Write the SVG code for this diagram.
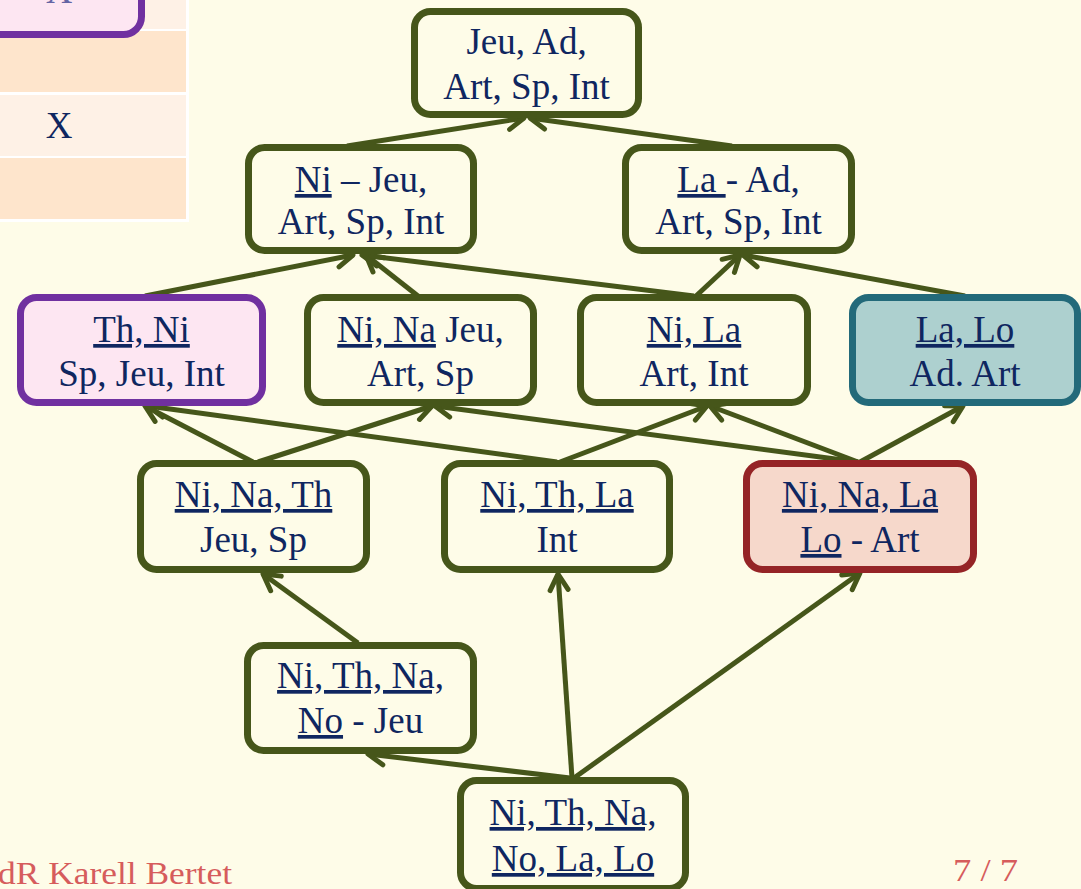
<svg xmlns="http://www.w3.org/2000/svg" width="1081" height="889" viewBox="0 0 1081 889">
  <style>
    .box{stroke:#46561A;stroke-width:7;fill:#FEFCE8}
    .t{font-family:"Liberation Serif","Times New Roman",serif;font-size:37px;fill:#0F2660;text-anchor:middle}
    .u{text-decoration:underline;text-decoration-skip-ink:none}
    .edge{stroke:#46561A;stroke-width:5;fill:none;marker-end:url(#ah)}
    .foot{font-family:"Liberation Serif","Times New Roman",serif;font-size:32px;fill:#D65C5C}
    .rowA{fill:#FEF1E6}
    .rowB{fill:#FEE5CC}
  </style>
  <defs>
    <marker id="ah" markerUnits="userSpaceOnUse" viewBox="-20 -12 24 24" refX="0" refY="0" markerWidth="24" markerHeight="24" orient="auto">
      <path d="M-16,-9 L0,0 L-16,9" fill="none" stroke="#46561A" stroke-width="5" stroke-linecap="round" stroke-linejoin="round"/>
    </marker>
  </defs>

  <!-- page background -->
  <rect x="0" y="0" width="1081" height="889" fill="#FEFCE8"/>

  <!-- table fragment, top left -->
  <g id="table">
    <rect x="0" y="0" width="189" height="222" fill="#FFFFFF"/>
    <rect class="rowA" x="0" y="0" width="186" height="29"/>
    <rect class="rowB" x="0" y="31" width="186" height="61"/>
    <rect class="rowA" x="0" y="95" width="186" height="61"/>
    <rect class="rowB" x="0" y="158" width="186" height="61"/>
    <text class="t" x="59" y="138">X</text>
    <rect x="-50" y="-80" width="191.5" height="114.5" rx="18" fill="#FDE6F2" stroke="#7030A0" stroke-width="7"/>
    <text class="t" x="59" y="3" style="fill:#6464A4">X</text>
  </g>

  <!-- connectors -->
  <g id="edges">
    <line class="edge" x1="347" y1="146" x2="524" y2="118"/>
    <line class="edge" x1="732" y1="146" x2="530" y2="118"/>

    <line class="edge" x1="145" y1="296" x2="353" y2="255"/>
    <line class="edge" x1="418" y1="296" x2="366" y2="255"/>
    <line class="edge" x1="694" y1="296" x2="362" y2="255"/>
    <line class="edge" x1="696" y1="296" x2="740" y2="255"/>
    <line class="edge" x1="965" y1="296" x2="743" y2="255"/>

    <line class="edge" x1="253" y1="462" x2="145" y2="406"/>
    <line class="edge" x1="557" y1="462" x2="148" y2="406"/>
    <line class="edge" x1="258" y1="462" x2="432" y2="406"/>
    <line class="edge" x1="858" y1="462" x2="435" y2="406"/>
    <line class="edge" x1="560" y1="462" x2="707" y2="406"/>
    <line class="edge" x1="858" y1="462" x2="710" y2="406"/>
    <line class="edge" x1="860" y1="462" x2="963" y2="406"/>

    <line class="edge" x1="358" y1="643" x2="263" y2="574"/>
    <line class="edge" x1="572" y1="778" x2="558" y2="574"/>
    <line class="edge" x1="574" y1="778" x2="860" y2="573"/>
    <line class="edge" x1="570" y1="778" x2="368" y2="754"/>
  </g>

  <!-- lattice nodes -->
  <g id="n-top">
    <rect class="box" x="414.5" y="11.5" width="224" height="103" rx="16"/>
    <text class="t" x="526.5" y="54">Jeu, Ad,</text>
    <text class="t" x="526.5" y="99">Art, Sp, Int</text>
  </g>
  <g id="n-ni">
    <rect class="box" x="248.5" y="147.5" width="225" height="103" rx="16"/>
    <text class="t" x="361" y="192"><tspan class="u">Ni</tspan> – Jeu,</text>
    <text class="t" x="361" y="234">Art, Sp, Int</text>
  </g>
  <g id="n-la">
    <rect class="box" x="625.5" y="147.5" width="226" height="103" rx="16"/>
    <text class="t" x="738.5" y="192"><tspan class="u">La </tspan>- Ad,</text>
    <text class="t" x="738.5" y="234">Art, Sp, Int</text>
  </g>
  <g id="n-th-ni">
    <rect x="20.5" y="297.5" width="242" height="105" rx="16" fill="#FDE6F2" stroke="#7030A0" stroke-width="7"/>
    <text class="t" x="141.5" y="342"><tspan class="u">Th, Ni</tspan></text>
    <text class="t" x="141.5" y="386">Sp, Jeu, Int</text>
  </g>
  <g id="n-ni-na">
    <rect class="box" x="307.5" y="297.5" width="226" height="105" rx="16"/>
    <text class="t" x="420.5" y="342"><tspan class="u">Ni, Na</tspan> Jeu,</text>
    <text class="t" x="420.5" y="386">Art, Sp</text>
  </g>
  <g id="n-ni-la">
    <rect class="box" x="580.5" y="297.5" width="227" height="105" rx="16"/>
    <text class="t" x="694" y="342"><tspan class="u">Ni, La</tspan></text>
    <text class="t" x="694" y="386">Art, Int</text>
  </g>
  <g id="n-la-lo">
    <rect x="852.5" y="297.5" width="225" height="105" rx="16" fill="#ADD0CF" stroke="#236A7A" stroke-width="7"/>
    <text class="t" x="965" y="342"><tspan class="u">La, Lo</tspan></text>
    <text class="t" x="965" y="386">Ad. Art</text>
  </g>
  <g id="n-ni-na-th">
    <rect class="box" x="140.5" y="463.5" width="226" height="106" rx="16"/>
    <text class="t" x="253.5" y="507"><tspan class="u">Ni, Na, Th</tspan></text>
    <text class="t" x="253.5" y="552">Jeu, Sp</text>
  </g>
  <g id="n-ni-th-la">
    <rect class="box" x="444.5" y="463.5" width="225" height="106" rx="16"/>
    <text class="t" x="557" y="507"><tspan class="u">Ni, Th, La</tspan></text>
    <text class="t" x="557" y="552">Int</text>
  </g>
  <g id="n-ni-na-la-lo">
    <rect x="746.5" y="463.5" width="227" height="106" rx="16" fill="#F6D8CB" stroke="#952426" stroke-width="7"/>
    <text class="t" x="860" y="507"><tspan class="u">Ni, Na, La</tspan></text>
    <text class="t" x="860" y="552"><tspan class="u">Lo</tspan> - Art</text>
  </g>
  <g id="n-ni-th-na-no">
    <rect class="box" x="247.5" y="645.5" width="226" height="105" rx="16"/>
    <text class="t" x="360.5" y="688"><tspan class="u">Ni, Th, Na,</tspan></text>
    <text class="t" x="360.5" y="733"><tspan class="u">No</tspan> - Jeu</text>
  </g>
  <g id="n-bottom">
    <rect class="box" x="460.5" y="780.5" width="225" height="108" rx="16"/>
    <text class="t" x="573" y="825"><tspan class="u">Ni, Th, Na,</tspan></text>
    <text class="t" x="573" y="871"><tspan class="u">No, La, Lo</tspan></text>
  </g>

  <!-- footer -->
  <text class="foot" x="-2" y="884" textLength="234" lengthAdjust="spacingAndGlyphs">dR Karell Bertet</text>
  <text class="foot" x="953" y="881" textLength="65" lengthAdjust="spacingAndGlyphs">7 / 7</text>
</svg>
